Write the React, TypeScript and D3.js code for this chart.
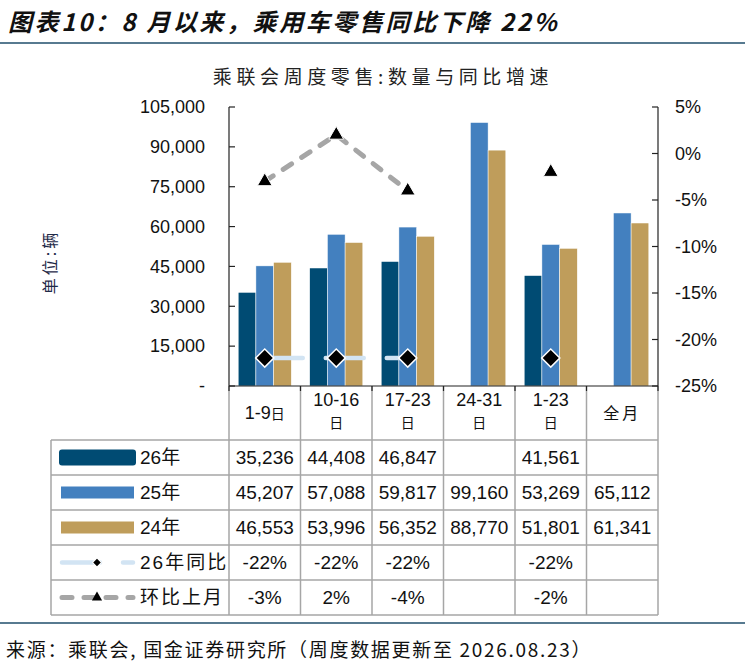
import React, { useEffect, useRef } from 'react';
import * as d3 from 'd3';

const categories = ['1-9日', '10-16日', '17-23日', '24-31日', '1-23日', '全月'];
const headerMain = ['1-9', '10-16', '17-23', '24-31', '1-23', '全月'];
const headerSub = ['日', '日', '日', '日', '日', ''];

const sales26: (number | null)[] = [35236, 44408, 46847, null, 41561, null];
const sales25: (number | null)[] = [45207, 57088, 59817, 99160, 53269, 65112];
const sales24: (number | null)[] = [46553, 53996, 56352, 88770, 51801, 61341];
const yoy26: (number | null)[] = [-22, -22, -22, null, -22, null];
const mom: (number | null)[] = [-3, 2, -4, null, -2, null];

const leftTicks = [0, 15000, 30000, 45000, 60000, 75000, 90000, 105000];
const rightTicks = [-25, -20, -15, -10, -5, 0, 5];

const C_DARK = '#004B73';
const C_BLUE = '#4380BF';
const C_GOLD = '#BF9D5B';
const C_YOY = '#D2E4F3';
const C_MOM = '#A6A6A6';
const C_GRID = '#A6A6A6';
const C_RULE = '#1F4E6B';

const LATIN = '"Liberation Sans", Arial, "Noto Sans CJK SC", sans-serif';
const CJK = '"Noto Sans CJK SC", "Liberation Sans", sans-serif';

const App = () => {
  const svgRef = useRef<SVGSVGElement | null>(null);

  useEffect(() => {
    document.body.style.margin = '0';
    const width = 745;
    const height = 665;
    const plotLeft = 229;
    const plotRight = 658;
    const plotTop = 107;
    const plotBottom = 386;
    const headerBottom = 440;
    const rowH = 35;
    const legendLeft = 51;

    const svg = d3.select(svgRef.current).attr('width', width).attr('height', height);
    svg.selectAll('*').remove();
    svg.append('rect').attr('width', width).attr('height', height).attr('fill', '#fff');

    // headline + rules
    svg.append('text')
      .attr('x', 8).attr('y', 31)
      .style('font-family', CJK).style('font-size', '24px')
      .style('font-weight', 'bold').style('font-style', 'italic')
      .style('letter-spacing', '2.6px')
      .attr('fill', '#111')
      .text('图表10：8 月以来，乘用车零售同比下降 22%');
    svg.append('line').attr('x1', 0).attr('x2', width).attr('y1', 43).attr('y2', 43)
      .attr('stroke', C_RULE).attr('stroke-width', 1.5);
    svg.append('line').attr('x1', 0).attr('x2', width).attr('y1', 623).attr('y2', 623)
      .attr('stroke', C_RULE).attr('stroke-width', 1.5);
    svg.append('text')
      .attr('x', 6).attr('y', 657)
      .style('font-family', CJK).style('font-size', '19px')
      .style('letter-spacing', '1.7px')
      .attr('fill', '#111')
      .text('来源：乘联会, 国金证券研究所（周度数据更新至 2026.08.23）');

    // chart title
    svg.append('text')
      .attr('x', 383).attr('y', 77).attr('dy', '0.35em')
      .attr('text-anchor', 'middle')
      .style('font-family', CJK).style('font-size', '19px')
      .style('letter-spacing', '4.6px')
      .attr('fill', '#222')
      .text('乘联会周度零售:数量与同比增速');

    // unit label
    svg.append('text')
      .attr('transform', `translate(50, 262) rotate(-90)`)
      .attr('text-anchor', 'middle').attr('dy', '0.35em')
      .style('font-family', CJK).style('font-size', '16px')
      .style('letter-spacing', '3px')
      .attr('fill', '#1F2A48')
      .text('单位:辆');

    // scales
    const x = d3.scaleBand<string>().domain(categories).range([plotLeft, plotRight]).paddingInner(0).paddingOuter(0);
    const inner = d3.scaleBand<string>().domain(['26', '25', '24']).range([0, x.bandwidth()]).paddingInner(0).paddingOuter(0.52);
    const yL = d3.scaleLinear().domain([0, 105000]).range([plotBottom, plotTop]);
    const yR = d3.scaleLinear().domain([-25, 5]).range([plotBottom, plotTop]);

    // bars
    const series = [
      { key: '26', values: sales26, color: C_DARK },
      { key: '25', values: sales25, color: C_BLUE },
      { key: '24', values: sales24, color: C_GOLD }
    ];
    series.forEach((s) => {
      svg.append('g')
        .selectAll('rect')
        .data(categories.map((c, i) => ({ c, v: s.values[i] })).filter((d) => d.v != null))
        .enter()
        .append('rect')
        .attr('x', (d) => (x(d.c) as number) + (inner(s.key) as number))
        .attr('width', inner.bandwidth())
        .attr('y', (d) => yL(d.v as number))
        .attr('height', (d) => plotBottom - yL(d.v as number))
        .attr('fill', s.color)
        .attr('stroke', '#fff').attr('stroke-width', 0.5);
    });

    // table grid
    const grid = svg.append('g').attr('stroke', C_GRID).attr('stroke-width', 1.5).attr('fill', 'none');
    const rows = 5;
    const tableBottom = headerBottom + rows * rowH;
    const colEdges = [plotLeft, ...categories.map((c) => (x(c) as number) + x.bandwidth())];
    colEdges.forEach((cx) => {
      grid.append('line').attr('x1', cx).attr('x2', cx).attr('y1', plotBottom).attr('y2', tableBottom);
    });
    grid.append('line').attr('x1', legendLeft).attr('x2', legendLeft).attr('y1', headerBottom).attr('y2', tableBottom);
    d3.range(rows + 1).forEach((r) => {
      const yy = headerBottom + r * rowH;
      grid.append('line').attr('x1', legendLeft).attr('x2', plotRight).attr('y1', yy).attr('y2', yy);
    });

    // axes
    const axisG = svg.append('g').attr('stroke', '#222').attr('stroke-width', 1.2);
    axisG.append('line').attr('x1', plotLeft).attr('x2', plotLeft).attr('y1', plotTop).attr('y2', plotBottom);
    axisG.append('line').attr('x1', plotRight).attr('x2', plotRight).attr('y1', plotTop).attr('y2', plotBottom);
    axisG.append('line').attr('x1', plotLeft).attr('x2', plotRight).attr('y1', plotBottom).attr('y2', plotBottom);
    leftTicks.forEach((t) => {
      axisG.append('line').attr('x1', plotLeft).attr('x2', plotLeft + 6).attr('y1', yL(t)).attr('y2', yL(t));
    });
    rightTicks.forEach((t) => {
      axisG.append('line').attr('x1', plotRight - 6).attr('x2', plotRight).attr('y1', yR(t)).attr('y2', yR(t));
    });
    colEdges.forEach((cx) => {
      axisG.append('line').attr('x1', cx).attr('x2', cx).attr('y1', plotBottom).attr('y2', plotBottom + 5);
    });

    const fmt = d3.format(',');
    svg.append('g')
      .selectAll('text')
      .data(leftTicks)
      .enter()
      .append('text')
      .attr('x', 205).attr('y', (d) => yL(d)).attr('dy', '0.35em')
      .attr('text-anchor', 'end')
      .style('font-family', LATIN).style('font-size', '18px')
      .attr('fill', '#111')
      .text((d) => (d === 0 ? '-' : fmt(d)));
    svg.append('g')
      .selectAll('text')
      .data(rightTicks)
      .enter()
      .append('text')
      .attr('x', 675).attr('y', (d) => yR(d)).attr('dy', '0.35em')
      .style('font-family', LATIN).style('font-size', '18px')
      .attr('fill', '#111')
      .text((d) => `${d}%`);

    // lines
    const cx = (i: number) => (x(categories[i]) as number) + x.bandwidth() / 2;
    const line = d3.line<number | null>()
      .defined((d) => d != null)
      .x((_, i) => cx(i))
      .y((d) => yR(d as number));

    svg.append('path')
      .attr('d', line(yoy26) as string)
      .attr('fill', 'none').attr('stroke', C_YOY).attr('stroke-width', 4.5)
      .attr('stroke-linecap', 'round').attr('stroke-dasharray', '38 23');
    svg.append('path')
      .attr('d', line(mom) as string)
      .attr('fill', 'none').attr('stroke', C_MOM).attr('stroke-width', 5)
      .attr('stroke-linecap', 'round').attr('stroke-dasharray', '10 12');

    const diamond = d3.symbol().type(d3.symbolSquare).size(165);
    const triangle = d3.symbol().type(d3.symbolTriangle).size(95);
    svg.append('g')
      .selectAll('path')
      .data(yoy26.map((v, i) => ({ v, i })).filter((d) => d.v != null))
      .enter()
      .append('path')
      .attr('d', diamond() as string)
      .attr('transform', (d) => `translate(${cx(d.i)},${yR(d.v as number)}) rotate(45)`)
      .attr('fill', '#000').attr('stroke', '#fff').attr('stroke-width', 1.5);
    svg.append('g')
      .selectAll('path')
      .data(mom.map((v, i) => ({ v, i })).filter((d) => d.v != null))
      .enter()
      .append('path')
      .attr('d', triangle() as string)
      .attr('transform', (d) => `translate(${cx(d.i)},${yR(d.v as number)})`)
      .attr('fill', '#000').attr('stroke', '#fff').attr('stroke-width', 1);

    // header labels
    headerMain.forEach((h, i) => {
      const sub = headerSub[i];
      const t = svg.append('text')
        .attr('x', cx(i)).attr('text-anchor', 'middle')
        .style('font-family', LATIN).attr('fill', '#111');
      if (!sub) {
        t.attr('y', 413).attr('dy', '0.35em').style('font-family', CJK).style('font-size', '16px')
          .style('letter-spacing', '3px').text(h);
      } else if (h.length <= 3) {
        t.attr('y', 413).attr('dy', '0.35em').style('font-size', '18px');
        t.append('tspan').text(h);
        t.append('tspan').style('font-family', CJK).style('font-size', '14px').text(sub);
      } else {
        t.attr('y', 400).attr('dy', '0.35em').style('font-size', '18px').text(h);
        svg.append('text')
          .attr('x', cx(i)).attr('y', 423).attr('dy', '0.35em').attr('text-anchor', 'middle')
          .style('font-family', CJK).style('font-size', '14px').attr('fill', '#111')
          .text(sub);
      }
    });

    // table values
    const tableRows: { label: string; values: (number | null)[]; fmt: (v: number) => string }[] = [
      { label: '26年', values: sales26, fmt: (v) => fmt(v) },
      { label: '25年', values: sales25, fmt: (v) => fmt(v) },
      { label: '24年', values: sales24, fmt: (v) => fmt(v) },
      { label: '26年同比', values: yoy26, fmt: (v) => `${v}%` },
      { label: '环比上月', values: mom, fmt: (v) => `${v}%` }
    ];
    tableRows.forEach((r, ri) => {
      const cy = headerBottom + ri * rowH + rowH / 2;
      r.values.forEach((v, i) => {
        if (v == null) return;
        svg.append('text')
          .attr('x', cx(i)).attr('y', cy).attr('dy', '0.36em')
          .attr('text-anchor', 'middle')
          .style('font-family', LATIN).style('font-size', '19px')
          .attr('fill', '#111')
          .text(r.fmt(v));
      });
      svg.append('text')
        .attr('x', 140).attr('y', cy).attr('dy', '0.36em')
        .style('font-family', LATIN).style('font-size', '19px')
        .style('letter-spacing', ri >= 3 ? '2px' : '0px')
        .attr('fill', '#111')
        .text(r.label);
    });

    // legend keys
    const ly = (ri: number) => headerBottom + ri * rowH + rowH / 2;
    svg.append('rect').attr('x', 59).attr('y', ly(0) - 8).attr('width', 77).attr('height', 16).attr('rx', 3).attr('fill', C_DARK);
    svg.append('rect').attr('x', 61).attr('y', ly(1) - 6).attr('width', 73).attr('height', 12).attr('fill', C_BLUE);
    svg.append('rect').attr('x', 61).attr('y', ly(2) - 6).attr('width', 73).attr('height', 12).attr('fill', C_GOLD);
    svg.append('path')
      .attr('d', `M62,${ly(3)}H133`)
      .attr('stroke', C_YOY).attr('stroke-width', 4.5).attr('stroke-linecap', 'round')
      .attr('stroke-dasharray', '38 23');
    svg.append('path')
      .attr('d', d3.symbol().type(d3.symbolSquare).size(40)() as string)
      .attr('transform', `translate(97,${ly(3)}) rotate(45)`)
      .attr('fill', '#000').attr('stroke', '#fff').attr('stroke-width', 1);
    svg.append('path')
      .attr('d', `M62,${ly(4)}H133`)
      .attr('stroke', C_MOM).attr('stroke-width', 5).attr('stroke-linecap', 'round')
      .attr('stroke-dasharray', '10 12');
    svg.append('path')
      .attr('d', d3.symbol().type(d3.symbolTriangle).size(45)() as string)
      .attr('transform', `translate(97,${ly(4)})`)
      .attr('fill', '#000');
  }, []);

  return <svg ref={svgRef} style={{ display: 'block' }}></svg>;
};

export default App;
